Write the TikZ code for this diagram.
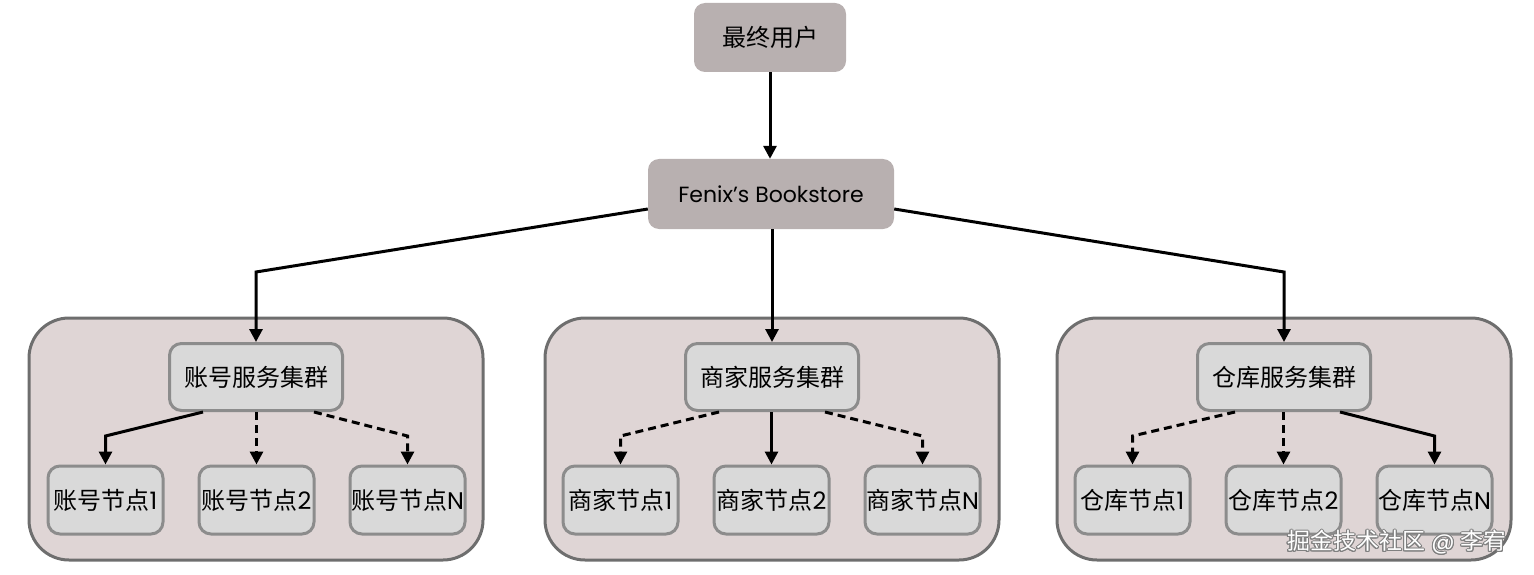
\documentclass[tikz,border=0pt]{standalone}
\usepackage{fontspec}
\setmainfont{Poppins}
\newfontfamily\cjk{Noto Sans CJK SC}
\usepackage{contour}
\contourlength{1pt}
\usetikzlibrary{arrows.meta}
\definecolor{topfill}{HTML}{B8B0B0}
\definecolor{clfill}{HTML}{DFD5D5}
\definecolor{cldraw}{HTML}{6E6E6E}
\definecolor{nfill}{HTML}{D9D9D9}
\definecolor{ndraw}{HTML}{8C8C8C}
\tikzset{
  topbox/.style={fill=topfill, rounded corners=11pt, inner sep=0pt, font=\fontsize{24}{28}\selectfont},
  clbox/.style={fill=clfill, draw=cldraw, line width=3pt, rounded corners=40pt},
  svcbox/.style={fill=nfill, draw=ndraw, line width=3pt, rounded corners=12pt, minimum width=173pt, minimum height=67pt, inner sep=0pt, font=\fontsize{24}{28}\selectfont},
  leafbox/.style={fill=nfill, draw=ndraw, line width=3pt, rounded corners=12pt, minimum width=115pt, minimum height=68pt, inner sep=0pt, font=\fontsize{24}{28}\selectfont},
  arr/.style={line width=3pt, -{Triangle[length=13pt,width=13pt]}},
  darr/.style={arr, dash pattern=on 8pt off 5pt},
}
\begin{document}
\begin{tikzpicture}[x=1pt,y=-1pt]
\useasboundingbox (0,0) rectangle (1534,575);
% clusters
\draw[clbox] (29,318) rectangle (483,560);
\draw[clbox] (545,318) rectangle (999,560);
\draw[clbox] (1057,318) rectangle (1511,560);
% top nodes
\node[topbox, minimum width=152pt, minimum height=69pt] (user) at (770,37.5) {\cjk 最终用户};
\node[topbox, minimum width=246pt, minimum height=70pt, font=\fontsize{22}{26}\selectfont] (fenix) at (771,194) {Fenix{\char"0027}s Bookstore};
% services
\node[svcbox] (acc) at (256,377) {\cjk 账号服务集群};
\node[svcbox] (mer) at (772,377) {\cjk 商家服务集群};
\node[svcbox] (whs) at (1284,377) {\cjk 仓库服务集群};
% leaves
\node[leafbox] (a1) at (105.5,500) {{\cjk 账号节点}1};
\node[leafbox] (a2) at (256.5,500) {{\cjk 账号节点}2};
\node[leafbox] (an) at (407.5,500) {{\cjk 账号节点}N};
\node[leafbox] (m1) at (620.5,500) {{\cjk 商家节点}1};
\node[leafbox] (m2) at (771.5,500) {{\cjk 商家节点}2};
\node[leafbox] (mn) at (922.5,500) {{\cjk 商家节点}N};
\node[leafbox] (w1) at (1132.5,500) {{\cjk 仓库节点}1};
\node[leafbox] (w2) at (1283.5,500) {{\cjk 仓库节点}2};
\node[leafbox] (wn) at (1434.5,500) {{\cjk 仓库节点}N};
% watermark
\node[font=\fontsize{23}{26}\selectfont] (wm) at (1397,543) {\contour{gray}{\textcolor{white}{{\cjk 掘金技术社区} @ {\cjk 李宥}}}};
% knee coordinates
\coordinate (k1) at (0,272);
\coordinate (k2) at (0,436);
% connectors
\draw[arr] (user) -- (user |- fenix.north);
\draw[arr] ([yshift=-15pt]fenix.west) -- (acc.north |- k1) -- (acc.north);
\draw[arr] (mer.north |- fenix.south) -- (mer.north);
\draw[arr] ([yshift=-15pt]fenix.east) -- (whs.north |- k1) -- (whs.north);
% account cluster
\draw[arr] ([xshift=-53pt]acc.south) -- (a1.north |- k2) -- (a1.north);
\draw[darr] (a2.north |- acc.south) -- (a2.north);
\draw[darr] ([xshift=58pt]acc.south) -- (an.north |- k2) -- (an.north);
% merchant cluster
\draw[darr] ([xshift=-53pt]mer.south) -- (m1.north |- k2) -- (m1.north);
\draw[arr] (m2.north |- mer.south) -- (m2.north);
\draw[darr] ([xshift=53pt]mer.south) -- (mn.north |- k2) -- (mn.north);
% warehouse cluster
\draw[darr] ([xshift=-49pt]whs.south) -- (w1.north |- k2) -- (w1.north);
\draw[darr] (w2.north |- whs.south) -- (w2.north);
\draw[arr] ([xshift=56pt]whs.south) -- (wn.north |- k2) -- (wn.north);
\end{tikzpicture}
\end{document}
